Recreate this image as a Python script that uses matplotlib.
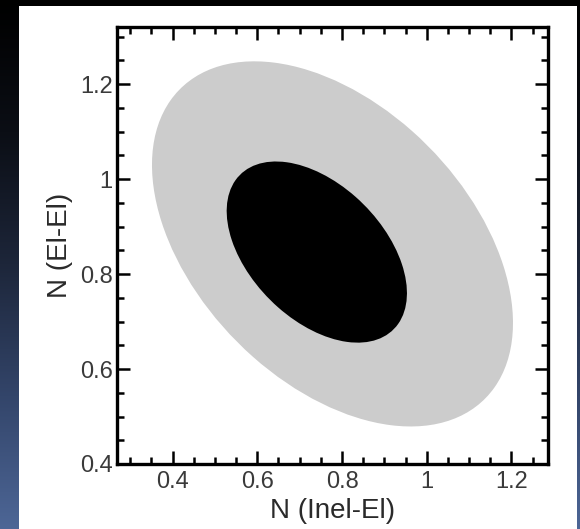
import matplotlib
matplotlib.use("Agg")
import matplotlib.pyplot as plt
import numpy as np
from matplotlib.colors import LinearSegmentedColormap
from matplotlib.patches import Ellipse, Rectangle
from matplotlib.ticker import MultipleLocator

plt.rcParams["font.family"] = ["Liberation Sans", "DejaVu Sans"]

# confidence regions in the (Inel-El, El-El) normalisation plane
regions = ["outer", "inner"]
center_x = [0.7775, 0.7405]
center_y = [0.8635, 0.8463]
widths = [0.975, 0.489]
heights = [0.606, 0.296]
angles = [-38.3, -38.2]
fill_colors = ["#cccccc", "#000000"]

x_ticks = [0.4, 0.6, 0.8, 1.0, 1.2]
x_tick_labels = ["0.4", "0.6", "0.8", "1", "1.2"]
y_ticks = [0.4, 0.6, 0.8, 1.0, 1.2]
y_tick_labels = ["0.4", "0.6", "0.8", "1", "1.2"]

fig = plt.figure(figsize=(5.8, 5.29), dpi=100)

# slide background: dark vertical gradient with a white panel on top
bg = fig.add_axes([0, 0, 1, 1], zorder=-10)
bg_cmap = LinearSegmentedColormap.from_list(
    "slide", ["#000000", "#0b0e15", "#1d263a", "#33456a", "#4d6696"])
bg.imshow(np.linspace(0, 1, 256).reshape(-1, 1), aspect="auto", cmap=bg_cmap,
          extent=[0, 1, 0, 1], origin="upper")
bg.add_patch(Rectangle((19 / 580, 0), (577 - 19) / 580, 1 - 6 / 529,
                       transform=bg.transAxes, facecolor="white", edgecolor="none"))
bg.set_axis_off()

ax = fig.add_axes([0.2012, 0.1229, 0.7441, 0.8267])
ax.set_facecolor("white")

for cx, cy, w, h, a, c in zip(center_x, center_y, widths, heights, angles, fill_colors):
    ax.add_patch(Ellipse((cx, cy), w, h, angle=a, facecolor=c, edgecolor="none"))

ax.set_xlim(0.268, 1.287)
ax.set_ylim(0.4, 1.321)

ax.set_xticks(x_ticks)
ax.set_xticklabels(x_tick_labels)
ax.set_yticks(y_ticks)
ax.set_yticklabels(y_tick_labels)
ax.xaxis.set_minor_locator(MultipleLocator(0.05))
ax.yaxis.set_minor_locator(MultipleLocator(0.05))

ax.tick_params(which="both", direction="in", top=True, right=True,
               width=1.8, colors="black", labelcolor="#3a3a3a", labelsize=17)
ax.tick_params(which="major", length=9.5)
ax.tick_params(which="minor", length=5)
ax.tick_params(axis="x", pad=5)
ax.tick_params(axis="y", pad=3)

for side in ax.spines.values():
    side.set_linewidth(2.4)
    side.set_zorder(5)

ax.set_xlabel("N (Inel-El)", fontsize=20, color="#2a2a2a", labelpad=4)
ax.set_ylabel("N (El-El)", fontsize=20, color="#2a2a2a", labelpad=5)

fig.savefig("out.png", dpi=100)
